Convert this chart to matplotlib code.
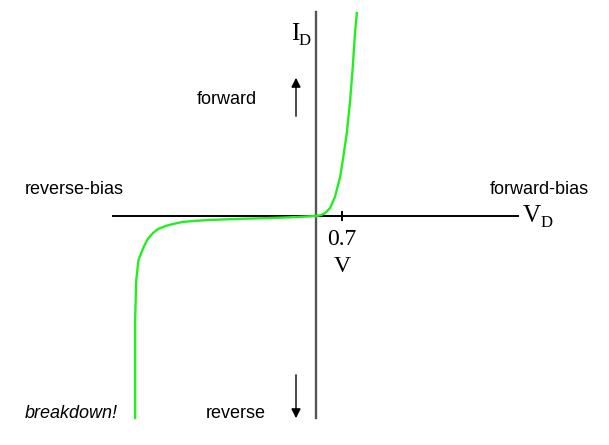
import numpy as np
import matplotlib.pyplot as plt

# axis scale: 1 V = 37.14 px, current in arbitrary units (px)
fwd_v = [0.0, 0.12, 0.24, 0.38, 0.51, 0.65, 0.735, 0.83, 0.92, 0.99, 1.05, 1.10]
fwd_i = [0, 0.8, 2.7, 8, 19, 39, 59, 83, 116, 149, 183, 203]
rev_v = [0.0, -0.5, -1.2, -2.2, -2.9, -3.3, -3.6, -3.85, -4.05, -4.25, -4.39, -4.53, -4.64, -4.78, -4.84, -4.87, -4.87]
rev_i = [0, -1, -2, -3, -4, -5, -6, -8, -10, -13, -17, -23, -31, -44, -64, -104, -202]

fig = plt.figure(figsize=(6.09, 4.45), dpi=100)
ax = fig.add_axes([0, 0, 1, 1])
s = 37.14
ax.set_xlim(-316 / s, 293 / s)
ax.set_ylim(-229, 216)
ax.axis('off')

# axes
ax.plot([-203 / s, 202 / s], [0, 0], color='black', lw=1.4, zorder=1)
ax.plot([0, 0], [-202, 204], color='#555555', lw=1.7, zorder=1)
ax.plot([0.7, 0.7], [-4, 4], color='black', lw=1.4)

# diode curve
ax.plot(fwd_v, fwd_i, color='#22ee22', lw=1.7, zorder=2)
ax.plot(rev_v, rev_i, color='#22ee22', lw=1.7, zorder=2)

serif = 'Liberation Serif'
sans = 'Liberation Sans'
ax.text(-21 / s, 182, 'I', fontsize=18, family=serif, ha='center', va='center')
ax.text(-11 / s, 175, 'D', fontsize=12, family=serif, ha='center', va='center')
ax.text(216 / s, 0, 'V', fontsize=18, family=serif, ha='center', va='center')
ax.text(231 / s, -7, 'D', fontsize=12, family=serif, ha='center', va='center')
ax.text(0.7, -24, '0.7', fontsize=17, family=serif, ha='center', va='center')
ax.text(0.7, -50, 'V', fontsize=17, family=serif, ha='center', va='center')

ax.text(-89 / s, 116, 'forward', fontsize=13, family=sans, ha='center', va='center')
ax.text(-80 / s, -197, 'reverse', fontsize=13, family=sans, ha='center', va='center')
ax.text(-242 / s, 26, 'reverse-bias', fontsize=13, family=sans, ha='center', va='center')
ax.text(223 / s, 26, 'forward-bias', fontsize=13, family=sans, ha='center', va='center')
ax.text(-245 / s, -197, 'breakdown!', fontsize=13, family=sans, style='italic', ha='center', va='center')

ax.annotate('', xy=(-20 / s, 141), xytext=(-20 / s, 97),
            arrowprops=dict(arrowstyle='-|>', color='black', lw=1.0, mutation_scale=14))
ax.annotate('', xy=(-20 / s, -205), xytext=(-20 / s, -156),
            arrowprops=dict(arrowstyle='-|>', color='black', lw=1.0, mutation_scale=14))

fig.savefig('out.png', dpi=100)
